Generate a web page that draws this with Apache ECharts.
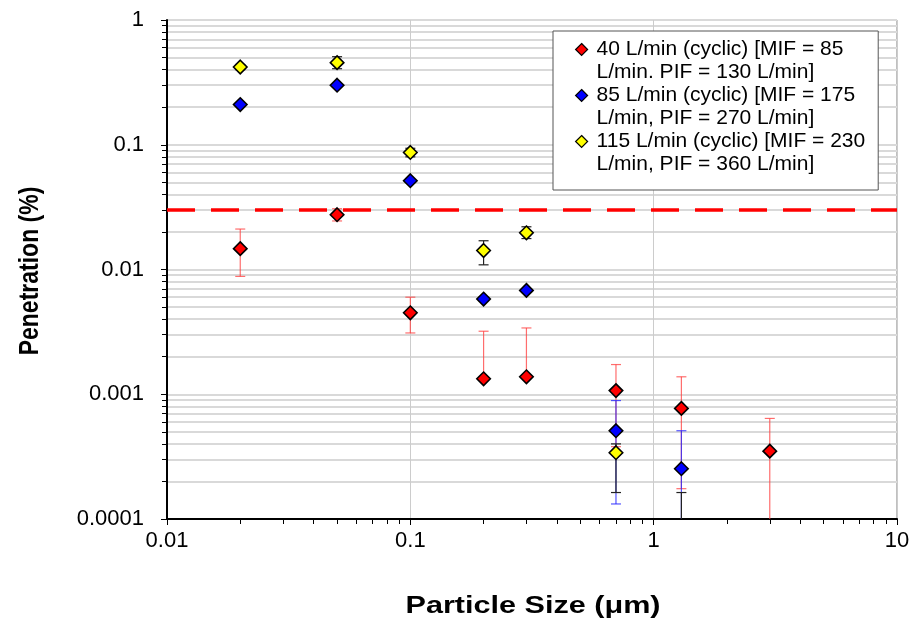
<!DOCTYPE html>
<html>
<head>
<meta charset="utf-8">
<script src="https://cdn.jsdelivr.net/npm/echarts@6/dist/echarts.min.js"></script>
<style>
html,body{margin:0;padding:0;background:#fff;}
#chart{width:917px;height:629px;}
</style>
</head>
<body>
<div id="chart"></div>
<script>
// ---------- data ----------
const seriesNames = [
  '40 L/min (cyclic) [MIF = 85\nL/min. PIF = 130 L/min]',
  '85 L/min (cyclic) [MIF = 175\nL/min, PIF = 270 L/min]',
  '115 L/min (cyclic) [MIF = 230\nL/min, PIF = 360 L/min]'
];

const size40 = [0.02, 0.05, 0.1, 0.2, 0.3, 0.7, 1.3, 3];
const pen40 = [0.0147, 0.0275, 0.0045, 0.00133, 0.00138, 0.00107, 0.00077, 0.00035];
const low40 = [0.0088, 0.0245, 0.0031, null, null, 0.00038, 0.000175, 0.00003];
const high40 = [0.0211, 0.0307, 0.0060, 0.0032, 0.0034, 0.00173, 0.00138, 0.00064];

const size85 = [0.02, 0.05, 0.1, 0.2, 0.3, 0.7, 1.3];
const pen85 = [0.21, 0.30, 0.0515, 0.0058, 0.0068, 0.00051, 0.000253];
const low85 = [0.205, 0.293, 0.050, 0.0056, 0.0066, 0.000132, 0.00003];
const high85 = [0.216, 0.308, 0.053, 0.0060, 0.0070, 0.00089, 0.00051];

const size115 = [0.02, 0.05, 0.1, 0.2, 0.3, 0.7, 1.3];
const pen115 = [0.42, 0.455, 0.0867, 0.0142, 0.0197, 0.00034, 0.00008];
const low115 = [0.40, 0.407, 0.080, 0.0109, 0.0177, 0.000163, 0.00003];
const high115 = [0.44, 0.508, 0.0937, 0.0170, 0.0220, 0.00040, 0.000163];

const limitLine = 0.03;

const xTicks = [0.01, 0.1, 1, 10];
const yTicks = [0.0001, 0.001, 0.01, 0.1, 1];

const xTitle = 'Particle Size (μm)';
const yTitle = 'Penetration (%)';

// ---------- build ----------
const markerColors = ['#ff0000', '#0000ff', '#ffff00'];
const errColors = ['rgba(255,60,60,0.75)', 'rgba(40,40,255,0.8)', '#222222'];
const FONT = 'Liberation Sans, Arial, sans-serif';

function pts(xs, ys) { return xs.map((x, i) => [x, ys[i]]); }
function errs(xs, ys, lo, hi) {
  return xs.map((x, i) => [x, lo[i] == null ? '-' : lo[i], hi[i] == null ? '-' : hi[i], ys[i]]);
}

function makeErrRender(color) {
  return function (params, api) {
    const x = api.value(0), lo = api.value(1), hi = api.value(2), v = api.value(3);
    const c = api.coord([x, v]);
    const children = [];
    const cap = 5;
    const st = { stroke: color, lineWidth: 1.2 };
    [hi, lo].forEach(function (e) {
      if (e == null || isNaN(e)) return;
      const p = api.coord([x, e]);
      children.push({ type: 'line', shape: { x1: c[0], y1: c[1], x2: p[0], y2: p[1] }, style: st });
      children.push({ type: 'line', shape: { x1: p[0] - cap, y1: p[1], x2: p[0] + cap, y2: p[1] }, style: st });
    });
    return { type: 'group', children: children };
  };
}

const sets = [
  { xs: size40, ys: pen40, lo: low40, hi: high40 },
  { xs: size85, ys: pen85, lo: low85, hi: high85 },
  { xs: size115, ys: pen115, lo: low115, hi: high115 }
];

const series = [];
sets.forEach(function (s, i) {
  series.push({
    type: 'custom',
    name: seriesNames[i] + ' err',
    clip: true,
    silent: true,
    z: 2,
    renderItem: makeErrRender(errColors[i]),
    encode: { x: 0, y: 3 },
    data: errs(s.xs, s.ys, s.lo, s.hi)
  });
});
sets.forEach(function (s, i) {
  const sObj = {
    type: 'scatter',
    name: seriesNames[i],
    symbol: 'diamond',
    symbolSize: 13.5,
    clip: true,
    z: 5,
    itemStyle: { color: markerColors[i], borderColor: '#000', borderWidth: 1.6, opacity: 1 },
    data: pts(s.xs, s.ys)
  };
  if (i === 0) {
    sObj.markLine = {
      silent: true,
      symbol: 'none',
      z: 3,
      label: { show: false },
      lineStyle: { color: '#ff0000', width: 3.5, type: [28, 16] },
      data: [{ yAxis: limitLine }]
    };
  }
  series.push(sObj);
});

const chart = echarts.init(document.getElementById('chart'), null, { renderer: 'canvas' });
chart.setOption({
  animation: false,
  backgroundColor: '#ffffff',
  grid: { left: 167, right: 20, top: 20, bottom: 110, show: true, borderColor: '#808080', borderWidth: 1, backgroundColor: 'transparent' },
  legend: {
    data: seriesNames,
    left: 553, top: 31,
    orient: 'vertical',
    backgroundColor: '#ffffff',
    borderColor: '#555555',
    borderWidth: 1,
    padding: [7, 13, 14, 22],
    itemGap: 0,
    itemWidth: 12,
    itemHeight: 35,
    icon: 'path://M6,0L12,6L6,12L0,6Z M6,35L6,35',
    itemStyle: { borderColor: '#000', borderWidth: 1.2 },
    textStyle: { fontFamily: FONT, fontSize: 21, lineHeight: 23, color: '#000', padding: [0, 0, 0, 4] }
  },
  graphic: [
    {
      type: 'text', x: 533, y: 607, scaleX: 1.33, z: 10, silent: true,
      style: { text: xTitle, font: 'bold 23px ' + FONT, fill: '#000', textAlign: 'center', textVerticalAlign: 'middle' }
    },
    {
      type: 'text', x: 30, y: 271, rotation: Math.PI / 2, scaleY: 1.2, z: 10, silent: true,
      style: { text: yTitle, font: 'bold 23px ' + FONT, fill: '#000', textAlign: 'center', textVerticalAlign: 'middle' }
    }
  ],
  xAxis: {
    type: 'log', logBase: 10, min: xTicks[0], max: xTicks[xTicks.length - 1],
    axisLine: { show: true, onZero: false, lineStyle: { color: '#000', width: 2 } },
    axisTick: { show: true, length: 6, lineStyle: { color: '#000', width: 1 } },
    minorTick: { show: true, splitNumber: 9, length: 5, lineStyle: { color: '#000', width: 1 } },
    axisLabel: { fontFamily: FONT, fontSize: 22, color: '#000', margin: 11, formatter: function (v) { return String(v); } },
    splitLine: { show: true, lineStyle: { color: '#cccccc', width: 1 } },
    minorSplitLine: { show: false }
  },
  yAxis: {
    type: 'log', logBase: 10, min: yTicks[0], max: yTicks[yTicks.length - 1],
    axisLine: { show: true, onZero: false, lineStyle: { color: '#000', width: 2 } },
    axisTick: { show: true, length: 6, lineStyle: { color: '#000', width: 1 } },
    minorTick: { show: true, splitNumber: 9, length: 5, lineStyle: { color: '#000', width: 1 } },
    axisLabel: { fontFamily: FONT, fontSize: 22, color: '#000', margin: 23, formatter: function (v) { return String(v); } },
    splitLine: { show: true, lineStyle: { color: '#d9d9d9', width: 2 } },
    minorSplitLine: { show: true, lineStyle: { color: '#d9d9d9', width: 2 } }
  },
  series: series
});
</script>
</body>
</html>
